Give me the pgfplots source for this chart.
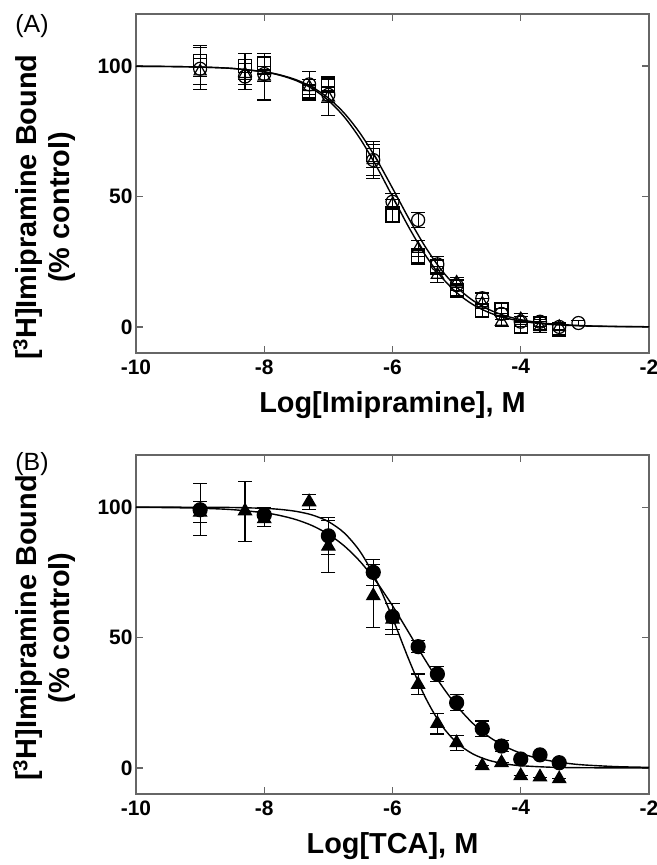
\documentclass[border=0pt]{standalone}
\usepackage{fontspec}
\setmainfont{Liberation Sans}
\usepackage{pgfplots}
\pgfplotsset{compat=1.18}

\pgfplotsset{
  panel/.style={
    scale only axis, width=513bp, height=339bp,
    anchor=south west,
    xmin=-10, xmax=-2, ymin=-10, ymax=120,
    xtick={-10,-8,-6,-4,-2}, xticklabels={{-10},{-8},{-6},{-4},{-2}},
    ytick={0,50,100}, yticklabels={0,50,100},
    tick align=inside, major tick length=7bp,
    axis line style={black!60, line width=1.6bp},
    every tick/.style={black!60, line width=1.3bp},
    tick label style={font=\fontsize{21}{21}\selectfont\bfseries},
    xticklabel style={yshift=-3bp},
    label style={font=\fontsize{29}{33}\selectfont\bfseries},
    ylabel={[\textsuperscript{3}H]Imipramine Bound\\(\% control)},
    ylabel style={align=center, at={(axis description cs:-0.179,0.43)}, anchor=center},
    xlabel style={at={(axis description cs:0.5,0)}, anchor=center, yshift=-52bp},
    clip=false,
  },
  curve/.style={black, line width=1.4bp, smooth, no markers},
  dat/.style={only marks, black, line width=1.2bp,
    error bars/y dir=both, error bars/y explicit,
    error bars/error bar style={line width=1.1bp, black},
    error bars/error mark options={rotate=90, mark size=7bp, line width=1.1bp, black}},
}

\begin{document}
\begin{tikzpicture}
\path[use as bounding box] (0bp,0bp) rectangle (657bp,865bp);
\node[font=\fontsize{25}{25}\selectfont] at (32bp,839bp) {(A)};
\node[font=\fontsize{25}{25}\selectfont] at (32bp,401bp) {(B)};

% ---------------- Panel A ----------------
\begin{axis}[panel, at={(136bp,512bp)}, xlabel={Log[Imipramine], M}]
\addplot[curve] coordinates {
(-10,99.95) (-9.5,99.87) (-9,99.65) (-8.5,99.12) (-8,97.76) (-7.75,96.46)
(-7.5,94.44) (-7.25,91.37) (-7,86.85) (-6.75,80.47) (-6.5,71.99) (-6.25,61.59)
(-6,50) (-5.75,38.41) (-5.5,28.01) (-5.25,19.53) (-5,13.15) (-4.75,8.63)
(-4.5,5.56) (-4.25,3.54) (-4,2.24) (-3.75,1.41) (-3.5,0.88) (-3,0.35)
(-2.5,0.13) (-2,0.05)};
\addplot[curve] coordinates {
(-10,99.94) (-9.5,99.86) (-9,99.65) (-8.5,99.13) (-8,97.84) (-7.75,96.62)
(-7.5,94.75) (-7.25,91.92) (-7,87.77) (-6.75,81.91) (-6.5,74.08) (-6.25,64.33)
(-6,53.22) (-5.75,41.79) (-5.5,31.17) (-5.25,22.23) (-5,15.28) (-4.75,10.21)
(-4.5,6.70) (-4.25,4.33) (-4,2.78) (-3.75,1.77) (-3.5,1.12) (-3,0.45)
(-2.5,0.18) (-2,0.07)};
% squares
\addplot[dat, mark=square, mark size=6.5bp] coordinates {
(-9,102) +- (0,6) (-8.3,100) +- (0,5) (-8,101) +- (0,4) (-7.3,90) +- (0,3)
(-7,93) +- (0,3) (-6.3,66) +- (0,5) (-6,43) +- (0,3) (-5.6,27) +- (0,3)
(-5.3,23) +- (0,3) (-5,14) +- (0,2) (-4.6,6) +- (0,2) (-4.3,7) +- (0,2)
(-4,0) +- (0,2) (-3.7,1) +- (0,2) (-3.4,-1) +- (0,2)};
% circles
\addplot[dat, mark=o, mark size=6.5bp] coordinates {
(-9,99) +- (0,8) (-8.3,96) +- (0,5) (-8,97) +- (0,3) (-7.3,93) +- (0,5)
(-7,89) +- (0,3) (-6.3,64) +- (0,6) (-6,48) +- (0,3) (-5.6,41) +- (0,3)
(-5.3,24) +- (0,3) (-5,16) +- (0,2) (-4.6,11) +- (0,2) (-4.3,5) +- (0,2)
(-4,2) +- (0,2) (-3.7,2) +- (0,2) (-3.4,0) +- (0,1) (-3.1,1.5) +- (0,1)};
% triangles
\addplot[dat, mark=triangle, mark size=7bp] coordinates {
(-9,98) +- (0,5) (-8.3,97) +- (0,4) (-8,96) +- (0,9) (-7.3,92) +- (0,3)
(-7,88) +- (0,7) (-6.3,64) +- (0,7) (-6,47) +- (0,2) (-5.6,30) +- (0,3)
(-5.3,20) +- (0,3) (-5,17) +- (0,2) (-4.6,9) +- (0,2) (-4.3,2) +- (0,2)
(-4,3) +- (0,2) (-3.7,0) +- (0,2) (-3.4,0) +- (0,1)};
\end{axis}

% ---------------- Panel B ----------------
\begin{axis}[panel, at={(136bp,71bp)}, xlabel={Log[TCA], M},
  ylabel style={at={(axis description cs:-0.179,0.49)}}]
\addplot[curve] coordinates {
(-10,99.92) (-9.5,99.82) (-9,99.58) (-8.5,99.05) (-8,97.84) (-7.75,96.77)
(-7.5,95.19) (-7.25,92.89) (-7,89.61) (-6.75,85.08) (-6.5,79.02) (-6.25,71.34)
(-6,62.19) (-5.75,52.07) (-5.5,41.79) (-5.25,32.16) (-5,23.86) (-4.75,17.15)
(-4.5,12.03) (-4.25,8.29) (-4,5.63) (-3.75,3.79) (-3.5,2.54) (-3.25,1.69)
(-3,1.12) (-2.5,0.49) (-2,0.22)};
\addplot[curve] coordinates {
(-10,100) (-9.5,99.99) (-9,99.96) (-8.5,99.87) (-8,99.54) (-7.75,99.13)
(-7.5,98.37) (-7.25,96.98) (-7,94.46) (-6.75,90.06) (-6.5,82.78) (-6.25,71.86)
(-6,57.54) (-5.75,41.84) (-5.5,27.64) (-5.25,16.86) (-5,9.72) (-4.75,5.41)
(-4.5,2.94) (-4.25,1.59) (-4,0.85) (-3.5,0.24) (-3,0.07) (-2.5,0.02) (-2,0.01)};
% filled circles
\addplot[dat, mark=*, mark size=7bp] coordinates {
(-9,99) +- (0,10) (-8,97) +- (0,3) (-7,89) +- (0,7) (-6.3,75) +- (0,5)
(-6,58) +- (0,5) (-5.6,46.5) +- (0,2.3) (-5.3,36) +- (0,3) (-5,25) +- (0,3)
(-4.6,15) +- (0,3) (-4.3,8.4) +- (0,2) (-4,3.4) +- (0,0) (-3.7,5) +- (0,0)
(-3.4,2) +- (0,0)};
% filled triangles
\addplot[dat, mark=triangle*, mark size=7.5bp] coordinates {
(-9,98) +- (0,4) (-8.3,98.5) +- (0,11.5) (-8,95.5) +- (0,3) (-7.3,102) +- (0,3)
(-7,85) +- (0,10) (-6.3,66) +- (0,12) (-6,57) +- (0,6) (-5.6,32) +- (0,4)
(-5.3,17) +- (0,4) (-5,9.6) +- (0,3) (-4.6,0.8) +- (0,0) (-4.3,2) +- (0,0)
(-4,-3) +- (0,0) (-3.7,-3.5) +- (0,0) (-3.4,-4.2) +- (0,0)};
\end{axis}
\end{tikzpicture}
\end{document}
